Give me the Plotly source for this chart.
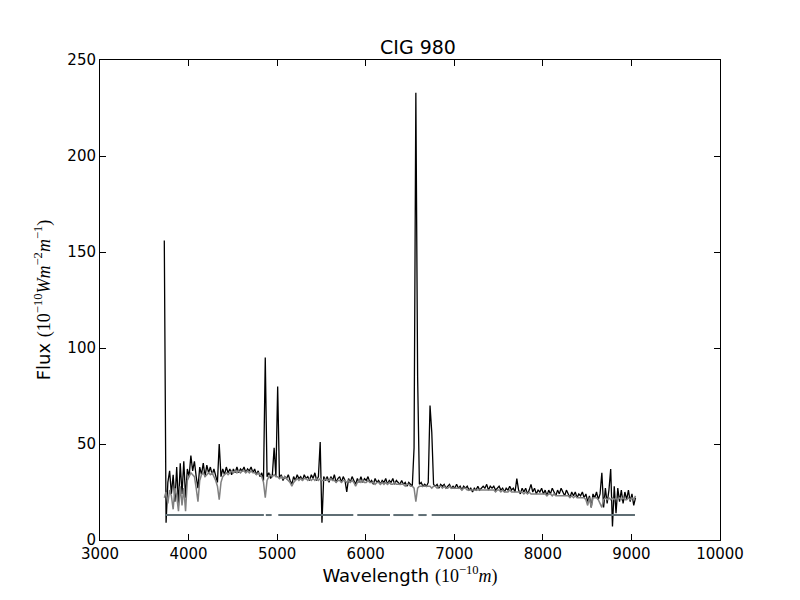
import numpy as np
import plotly.graph_objects as go

# Observed spectrum of CIG 980, sampled every 20 A starting at 3726 A
wave_start = 3726
wave_step = 20

flux_obs = [
    156, 9, 30, 36, 24, 34, 20, 38, 18, 40,
    24, 41, 22, 37, 33, 44, 36, 41, 33, 27,
    38, 34, 40, 33, 39, 35, 38, 34, 37, 33,
    30, 50, 33, 37, 34, 38, 35, 37, 34, 37,
    35, 38, 35, 37, 36, 38, 35, 37, 36, 38,
    35, 37, 34, 36, 33, 35, 31, 95, 33, 35,
    32, 34, 48, 33, 80, 32, 34, 31, 33, 32,
    34, 31, 29, 33, 31, 34, 32, 33, 31, 34,
    32, 33, 31, 34, 32, 35, 31, 33, 51, 9,
    33, 31, 33, 30, 33, 31, 34, 30, 32, 33,
    30, 33, 31, 25, 32, 30, 33, 31, 29, 32,
    30, 33, 30, 32, 31, 33, 30, 31, 29, 32,
    30, 31, 29, 31, 30, 32, 29, 31, 30, 32,
    29, 31, 30, 29, 31, 29, 30, 28, 30, 29,
    28, 48, 233, 85, 29, 30, 28, 29, 28, 30,
    70, 56, 29, 28, 29, 27, 29, 28, 29, 27,
    28, 29, 27, 28, 27, 29, 27, 28, 26, 28,
    27, 28, 26, 27, 25, 27, 26, 28, 26, 27,
    28, 27, 29, 26, 28, 27, 28, 26, 27, 28,
    26, 27, 25, 27, 26, 28, 26, 27, 25, 32,
    26, 24, 27, 25, 27, 24, 26, 29, 25, 27,
    24, 26, 25, 27, 24, 26, 23, 26, 24, 27,
    25, 23, 26, 24, 27, 25, 23, 26, 24, 22,
    25, 23, 25, 22, 24, 23, 25, 22, 24, 20,
    23, 17, 24, 22, 25, 21, 24, 35, 17, 27,
    19, 26, 37, 7, 28, 14, 27, 20, 26, 19,
    25, 21, 26, 20, 24, 18, 22,
]

# Synthetic (model) spectrum on the same sampling
flux_model = [
    22, 25, 19, 26, 23, 16, 27, 23, 15, 28,
    18, 27, 15, 31, 33, 35, 34, 33, 27, 20,
    31, 34, 35, 33, 34, 35, 34, 35, 33, 31,
    28, 21, 30, 33, 34, 35, 34, 35, 36, 35,
    36, 35, 36, 35, 36, 36, 35, 36, 35, 36,
    35, 35, 34, 35, 34, 33, 30, 22, 31, 33,
    34, 33, 34, 33, 33, 32, 33, 32, 33, 32,
    31, 30, 28, 30, 31, 32, 31, 32, 31, 32,
    32, 31, 32, 31, 32, 31, 32, 31, 32, 31,
    31, 32, 31, 31, 32, 31, 31, 30, 31, 31,
    30, 31, 31, 30, 31, 30, 31, 30, 28, 30,
    31, 30, 31, 30, 30, 31, 30, 30, 30, 29,
    30, 30, 29, 30, 29, 30, 29, 30, 29, 29,
    30, 29, 29, 29, 29, 29, 28, 29, 29, 28,
    28, 27, 20, 27, 28, 28, 28, 28, 28, 28,
    28, 27, 28, 28, 27, 28, 28, 27, 28, 27,
    27, 28, 27, 27, 27, 27, 27, 27, 26, 27,
    27, 26, 26, 26, 26, 26, 26, 26, 26, 26,
    26, 26, 26, 26, 26, 26, 26, 25, 26, 26,
    25, 26, 25, 25, 25, 26, 25, 25, 25, 25,
    25, 25, 25, 24, 25, 24, 25, 24, 24, 24,
    24, 24, 24, 24, 24, 24, 23, 24, 24, 23,
    24, 23, 23, 23, 23, 23, 23, 23, 23, 22,
    23, 22, 23, 22, 22, 22, 22, 22, 21, 18,
    22, 17, 22, 22, 22, 21, 19, 17, 21, 22,
    21, 22, 21, 22, 21, 22, 21, 22, 21, 22,
    21, 21, 22, 21, 22, 21, 23,
]

# Fitted wavelength windows (gaps are masked emission lines)
mask_start = [3734, 4872, 5013, 5905, 6312, 6594, 6745]
mask_end = [4850, 4938, 5860, 6274, 6538, 6688, 9040]
mask_level = 13

wave_obs = wave_start + wave_step * np.arange(len(flux_obs))
wave_model = wave_start + wave_step * np.arange(len(flux_model))

mask_x = []
mask_y = []
for a, b in zip(mask_start, mask_end):
    mask_x += [a, b, None]
    mask_y += [mask_level, mask_level, None]

fig = go.Figure()

fig.add_trace(go.Scatter(x=wave_obs, y=flux_obs, mode="lines",
                         line=dict(color="black", width=1.3)))
fig.add_trace(go.Scatter(x=wave_model, y=flux_model, mode="lines",
                         line=dict(color="#808080", width=1.5)))
fig.add_trace(go.Scatter(x=mask_x, y=mask_y, mode="lines",
                         line=dict(color="#5f6e74", width=2)))

serif = "font-family:'Liberation Serif',serif;font-style:italic"
num = "font-family:'Liberation Serif',serif"

xlabel = ("Wavelength <span style=\"%s\">(10<sup>−10</sup></span>"
          "<span style=\"%s\">m</span><span style=\"%s\">)</span>") % (num, serif, num)
ylabel = ("Flux <span style=\"%s\">(10<sup>−10</sup></span>"
          "<span style=\"%s\">Wm</span><span style=\"%s\"><sup>−2</sup></span>"
          "<span style=\"%s\">m</span><span style=\"%s\"><sup>−1</sup>)</span>") % (
    num, serif, num, serif, num)

axis_style = dict(
    showline=True, linecolor="black", linewidth=1, mirror="allticks",
    ticks="inside", ticklen=6, tickcolor="black", tickwidth=1,
    showgrid=False, zeroline=False, automargin=False,
    tickfont=dict(family="DejaVu Sans", size=15, color="black"),
)

# the page body adds 8px on the top and left, so margins compensate
fig.update_layout(
    width=800, height=600,
    margin=dict(l=92, r=88, t=52, b=68),
    paper_bgcolor="white", plot_bgcolor="white",
    showlegend=False,
    font=dict(family="DejaVu Sans", size=15, color="black"),
    title=dict(text="CIG 980", x=0.5125, xanchor="center",
               y=1 - 46 / 600, yanchor="bottom", yref="container",
               font=dict(family="DejaVu Sans", size=19, color="black")),
    xaxis=dict(range=[3000, 10000], dtick=1000, tick0=3000, tickformat="d",
               title=dict(text=xlabel, standoff=6), **axis_style),
    yaxis=dict(range=[0, 250], dtick=50, tick0=0,
               title=dict(text=ylabel, standoff=12), **axis_style),
)

fig.write_html("out.html")
